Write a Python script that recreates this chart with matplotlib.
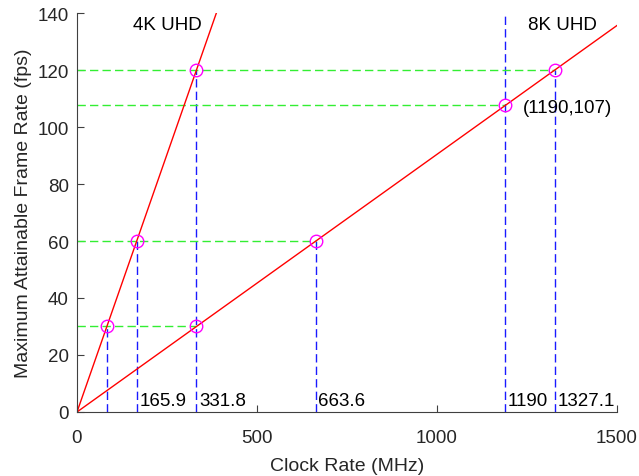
import numpy as np
import matplotlib.pyplot as plt

plt.rcParams['font.family'] = ['Liberation Sans', 'DejaVu Sans']

# operating points (clock in MHz, frame rate in fps)
clk_4k = np.array([82.95, 165.9, 331.8])
fps_4k = np.array([30, 60, 120])
clk_8k = np.array([331.8, 663.6, 1190, 1327.1])
fps_8k = np.array([30, 60, 107.6, 120])

# guide lines
vline_x = [82.95, 165.9, 331.8, 663.6, 1190, 1327.1]
vline_top = [30, 60, 120, 60, 140, 120]
hline_y = [30, 60, 107.6, 120]
hline_end = [331.8, 663.6, 1190, 1327.1]
label_x = [165.9, 331.8, 663.6, 1190, 1327.1]
label_txt = ['165.9', '331.8', '663.6', '1190', '1327.1']

gray = '#404040'
fig = plt.figure(figsize=(6.39, 4.77), dpi=100)
ax = fig.add_axes([0.1205, 0.1342, 0.8451, 0.8364])

for x, top in zip(vline_x, vline_top):
    ax.plot([x, x], [0, top], color='#1a1aff', linestyle=(0, (6, 3)), linewidth=1)
for y, end in zip(hline_y, hline_end):
    ax.plot([0, end], [y, y], color='#33ee33', linestyle=(0, (6, 3)), linewidth=1)

# lines through origin
slope_4k = fps_4k[-1] / clk_4k[-1]
slope_8k = fps_8k[-1] / clk_8k[-1]
x4 = np.array([0, 140 / slope_4k])
x8 = np.array([0, 1500])
ax.plot(x4, slope_4k * x4, color='red', linewidth=1)
ax.plot(x8, slope_8k * x8, color='red', linewidth=1)

ax.plot(clk_4k, fps_4k, 'o', mfc='none', mec='magenta', ms=9, mew=1)
ax.plot(clk_8k, fps_8k, 'o', mfc='none', mec='magenta', ms=9, mew=1)

for x, t in zip(label_x, label_txt):
    ax.text(x + 7, 1, t, fontsize=13.5, va='bottom', ha='left')
ax.text(251, 136, '4K UHD', fontsize=13.5, ha='center', va='center')
ax.text(1349, 136, '8K UHD', fontsize=13.5, ha='center', va='center')
ax.text(1238, 107, '(1190,107)', fontsize=13.5, ha='left', va='center')

ax.set_xlim(0, 1500)
ax.set_ylim(0, 140)
ax.set_xticks([0, 500, 1000, 1500])
ax.set_yticks(np.arange(0, 141, 20))
ax.spines['top'].set_visible(False)
ax.spines['right'].set_visible(False)
for s in ['left', 'bottom']:
    ax.spines[s].set_color(gray)
ax.tick_params(direction='in', length=5, colors=gray, labelsize=13.5, labelcolor='#262626')
ax.tick_params(axis='x', pad=12)
ax.tick_params(axis='y', pad=6)
ax.set_xlabel('Clock Rate (MHz)', fontsize=14, color='#262626', labelpad=8)
ax.set_ylabel('Maximum Attainable Frame Rate (fps)', fontsize=14, color='#262626')

plt.savefig('out.png', dpi=100)
